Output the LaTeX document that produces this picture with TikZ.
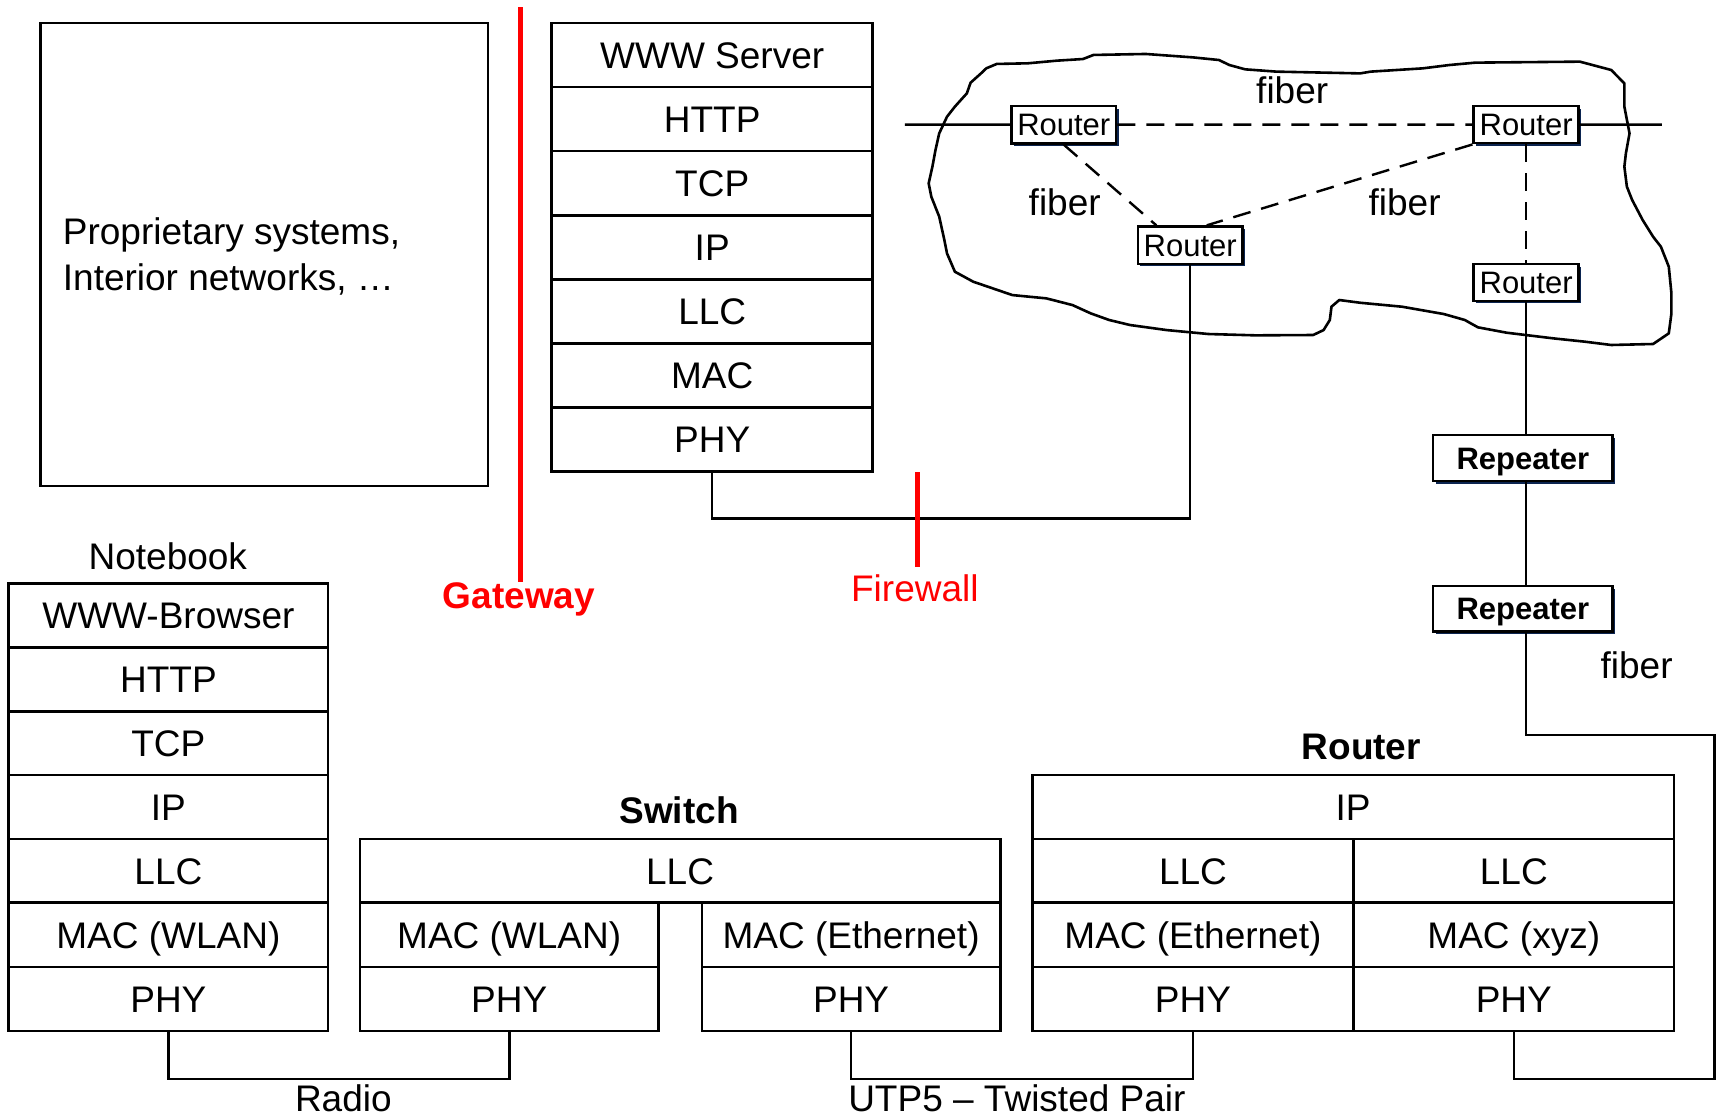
\documentclass[tikz,border=0pt]{standalone}
\usepackage{fontspec}
\setmainfont{Liberation Sans}
\usetikzlibrary{calc,shadows}
\definecolor{shadowblue}{HTML}{0B2450}
\newcommand\bx[7][cell]{\node[#1, minimum width={(#5-#3)*0.5485pt}, minimum height={(#6-#4)*0.5485pt}] (#2) at ({(#3+#5)/2},{(#4+#6)/2}) {#7};}
\begin{document}
\begin{tikzpicture}[x=0.5485pt,y=-0.5485pt,
  cell/.style={draw, line width=1.3pt, inner sep=0pt, anchor=center, font=\fontsize{18.5}{22}\selectfont, text height=13.3pt, text depth=0pt},
  rtr/.style={draw, line width=1.3pt, fill=white, inner sep=0pt, anchor=center, font=\fontsize{15.5}{18}\selectfont, text height=11.1pt, text depth=0pt, drop shadow={shadow xshift=1.3pt, shadow yshift=-1.3pt, fill=shadowblue, opacity=1}},
  rep/.style={rtr, font=\bfseries\fontsize{15.5}{18}\selectfont},
  lbl/.style={font=\fontsize{18.5}{22}\selectfont, inner sep=0pt},
  blbl/.style={font=\bfseries\fontsize{18.5}{22}\selectfont, inner sep=0pt},
  conn/.style={line width=1.3pt},
  fibre/.style={line width=1.2pt, dash pattern=on 9pt off 5.5pt},
  redbar/.style={red, line width=2.7pt},
]
\useasboundingbox (0,0) rectangle (1568,1018);

% proprietary box
\bx{prop}{37}{21}{445}{443}{}
\node[lbl, anchor=base west] (pt1) at (57,223) {Proprietary systems,};
\node[lbl, anchor=base west] (pt2) at (57,265) {Interior networks, …};

% gateway
\coordinate (gwT) at (474.4,6.5);
\coordinate (gwB) at (474.4,531);
\draw[redbar] (gwT) -- (gwB);
\node[blbl, text=red, anchor=base] (gwl) at (473,555) {Gateway};

% WWW server stack
\bx{w1}{503}{21}{795.5}{79.4}{WWW Server}
\bx{w2}{503}{79.4}{795.5}{137.8}{HTTP}
\bx{w3}{503}{137.8}{795.5}{196.2}{TCP}
\bx{w4}{503}{196.2}{795.5}{254.6}{IP}
\bx{w5}{503}{254.6}{795.5}{313}{LLC}
\bx{w6}{503}{313}{795.5}{371.4}{MAC}
\bx{w7}{503}{371.4}{795.5}{430}{PHY}

% cloud
\draw[line width=1.3pt, line join=round]
 (908.6,58.3) -- (937.2,57.7) -- (963.4,55.3) -- (987.3,53.8) -- (996.8,50.1) -- (1044.5,49.2)
 -- (1087.4,52.3) -- (1111.2,54.7) -- (1120.8,59.3) -- (1135.1,63.2) -- (1163.7,65.3) -- (1240.0,66.9)
 -- (1249.5,65.3) -- (1297.2,62.3) -- (1321.0,59.3) -- (1344.9,57.1) -- (1440.2,56.2) -- (1468.8,63.8)
 -- (1480.8,76.0) -- (1480.8,97.2) -- (1485.5,121.6) -- (1482.2,139.8) -- (1480.8,151.9) -- (1483.1,170.2)
 -- (1487.9,182.3) -- (1497.5,200.6) -- (1507.0,215.8) -- (1514.1,224.9) -- (1521.3,243.1) -- (1523.7,267.4)
 -- (1523.7,285.7) -- (1521.3,303.9) -- (1507.0,313.6) -- (1468.8,314.5) -- (1445.0,311.5) -- (1416.4,308.5)
 -- (1373.5,303.3) -- (1347.3,298.4) -- (1335.3,291.7) -- (1316.3,286.3) -- (1278.1,279.6) -- (1240.0,276.0)
 -- (1220.9,273.5) -- (1213.8,279.6) -- (1212.3,291.7) -- (1206.6,300.9) -- (1197.1,305.4) -- (1144.6,305.7)
 -- (1101.7,304.5) -- (1063.6,300.9) -- (1030.2,296.3) -- (1011.1,291.7) -- (994.4,285.7) -- (977.7,278.1)
 -- (953.9,272.0) -- (922.9,269.0) -- (887.2,256.8) -- (870.5,247.7) -- (863.3,231.0) -- (860.9,218.8)
 -- (856.2,197.5) -- (849.0,179.3) -- (846.6,167.1) -- (850.0,151.9) -- (852.8,136.8) -- (856.2,121.6)
 -- (863.3,106.4) -- (870.5,97.2) -- (881.4,85.1) -- (884.8,75.4) -- (894.3,66.9) -- (899.1,62.3) -- cycle;

% cloud routers
\bx[rtr]{r1}{922}{96.6}{1017.5}{130.7}{Router}
\bx[rtr]{r2}{1343.5}{96.6}{1439}{130.5}{Router}
\bx[rtr]{r3}{1037.3}{206.6}{1132.7}{240.5}{Router}
\bx[rtr]{r4}{1343.5}{240.7}{1439}{274.3}{Router}

\coordinate (hL) at (825,113.6);
\coordinate (hR) at (1515,113.6);
\draw[conn] (hL) -- (r1.west);
\draw[conn] (r2.east) -- (hR);
\draw[fibre] (r1.east) -- (r2.west);
\draw[fibre] (r1.south) -- ($(r3.north west)+(18,0)$);
\draw[fibre] (r2.south west) -- ($(r3.north west)+(64,0)$);
\draw[fibre] (r2.south) -- (r4.north);
\node[lbl, anchor=base] (f1) at (1178,94.5) {fiber};
\node[lbl, anchor=base] (f2) at (970.6,196) {fiber};
\node[lbl, anchor=base] (f3) at (1280.5,196) {fiber};

% server connector and firewall
\coordinate (srvY) at (0,472.5);
\draw[conn] (w7.south) |- (srvY -| r3.south) -- (r3.south);
\coordinate (fwT) at (836.2,430.5);
\coordinate (fwB) at (836.2,517);
\draw[redbar] (fwT) -- (fwB);
\node[lbl, text=red, anchor=base] (fwl) at (834,548) {Firewall};

% repeaters
\bx[rep]{rp1}{1306.5}{396.5}{1470}{438.5}{Repeater}
\bx[rep]{rp2}{1306.5}{534.2}{1470}{575.8}{Repeater}
\draw[conn] (r4.south) -- (r4.south |- rp1.north);
\draw[conn] (r4.south |- rp1.south) -- (r4.south |- rp2.north);
\node[lbl, anchor=base] (f4) at (1492,618.3) {fiber};

% Notebook
\node[lbl, anchor=base] (nbl) at (153,519) {Notebook};
\bx{n1}{8}{532}{299}{590.5}{WWW-Browser}
\bx{n2}{8}{590.5}{299}{648.5}{HTTP}
\bx{n3}{8}{648.5}{299}{706.5}{TCP}
\bx{n4}{8}{706.5}{299}{764.8}{IP}
\bx{n5}{8}{764.8}{299}{822.9}{LLC}
\bx{n6}{8}{822.9}{299}{881.5}{MAC (WLAN)}
\bx{n7}{8}{881.5}{299}{940}{PHY}

% Switch
\node[blbl, anchor=base] (swl) at (619,751) {Switch};
\bx{s1}{328}{764.8}{912}{822.9}{LLC}
\bx{s2}{328}{822.9}{600.4}{881.5}{MAC (WLAN)}
\bx{s3}{328}{881.5}{600.4}{940}{PHY}
\bx{s4}{639.8}{822.9}{912}{881.5}{MAC (Ethernet)}
\bx{s5}{639.8}{881.5}{912}{940}{PHY}

% Router
\node[blbl, anchor=base] (rtl) at (1241,692) {Router};
\bx{t1}{941}{706.5}{1526}{764.8}{IP}
\bx{t2}{941}{764.8}{1234}{822.9}{LLC}
\bx{t3}{941}{822.9}{1234}{881.5}{MAC (Ethernet)}
\bx{t4}{941}{881.5}{1234}{940}{PHY}
\bx{t5}{1234}{764.8}{1526}{822.9}{LLC}
\bx{t6}{1234}{822.9}{1526}{881.5}{MAC (xyz)}
\bx{t7}{1234}{881.5}{1526}{940}{PHY}

% bottom connectors
\coordinate (botY) at (0,983.5);
\draw[conn] (n7.south) |- (botY -| s3.south) -- (s3.south);
\node[lbl, anchor=base] (radio) at (313,1013) {Radio};
\draw[conn] (s5.south) |- (botY -| t4.south) -- (t4.south);
\node[lbl, anchor=base] (utp) at (927,1013) {UTP5 – Twisted Pair};

% fiber loop to router
\coordinate (fc1) at (1563,670);
\coordinate (fc2) at (1563,983.5);
\draw[conn] (r4.south |- rp2.south) |- (fc1) -- (fc2) -| (t7.south);
\end{tikzpicture}
\end{document}
